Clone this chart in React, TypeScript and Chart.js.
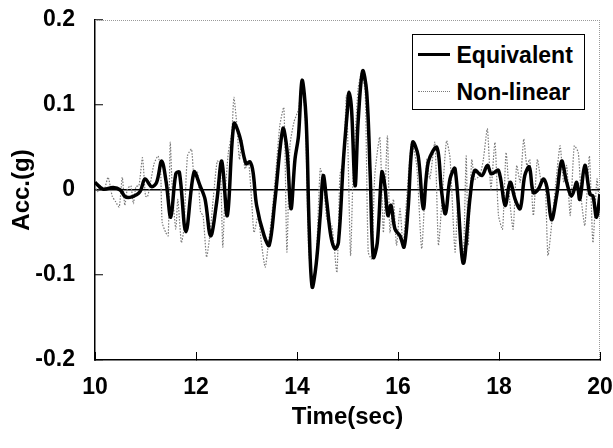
import React, { useEffect, useRef } from "react";
import { Chart, registerables } from "chart.js";

Chart.register(...registerables);

// ---- data ----
const EQ_T = [
  10.0, 10.16, 10.36, 10.5, 10.6, 10.73, 10.89, 10.99, 11.12, 11.22, 11.32, 11.41, 11.5, 11.6, 11.67, 11.8,
  11.96, 12.08, 12.18, 12.29, 12.41, 12.51, 12.62, 12.75, 12.86, 12.99, 13.07, 13.13, 13.2, 13.35, 13.45,
  13.56, 13.72, 13.8, 13.88, 13.96, 14.03, 14.1, 14.18, 14.24, 14.3, 14.38, 14.46, 14.52, 14.59, 14.67,
  14.75, 14.82, 14.92, 15.0, 15.03, 15.08, 15.15, 15.21, 15.3, 15.38, 15.45, 15.51, 15.59, 15.68, 15.74,
  15.8, 15.86, 15.94, 16.04, 16.12, 16.2, 16.29, 16.4, 16.5, 16.6, 16.77, 16.86, 16.94, 17.03, 17.13,
  17.29, 17.43, 17.52, 17.66, 17.77, 17.85, 17.99, 18.12, 18.22, 18.32, 18.42, 18.51, 18.6, 18.68, 18.78,
  18.88, 18.95, 19.04, 19.14, 19.24, 19.34, 19.44, 19.54, 19.6, 19.7, 19.8, 19.86, 19.93, 20.0,
];
const EQ_V = [
  0.009, 0.001, 0.003, 0.0, -0.008, -0.008, -0.002, 0.013, 0.004, 0.009, 0.034, 0.009, -0.032, 0.019, 0.021,
  -0.049, 0.021, 0.005, -0.011, -0.054, -0.014, 0.034, -0.03, 0.078, 0.064, 0.031, 0.033, 0.021, -0.018,
  -0.054, -0.065, -0.014, 0.072, 0.048, -0.022, 0.036, 0.064, 0.129, 0.084, -0.042, -0.114, -0.087, -0.03,
  0.017, -0.014, -0.054, -0.069, -0.062, 0.036, 0.095, 0.115, 0.095, 0.005, 0.08, 0.14, 0.115, 0.017, -0.079,
  -0.062, 0.021, 0.005, -0.03, -0.018, -0.046, -0.054, -0.067, -0.022, 0.056, 0.04, -0.022, 0.033, 0.05, 0.0,
  -0.028, 0.013, 0.025, -0.086, -0.007, 0.023, 0.017, 0.029, 0.019, 0.023, -0.018, 0.009, -0.011, -0.022,
  0.017, 0.027, -0.003, 0.001, 0.013, 0.003, -0.035, -0.007, 0.034, 0.009, -0.007, 0.009, -0.011, 0.029,
  -0.005, -0.007, -0.032, -0.005,
];

const NL_T = [
  10.0, 10.05, 10.11, 10.18, 10.26, 10.34, 10.41, 10.48, 10.54, 10.59, 10.64, 10.71, 10.76, 10.81, 10.87,
  10.94, 11.0, 11.04, 11.1, 11.17, 11.25, 11.3, 11.33, 11.4, 11.45, 11.49, 11.53, 11.6, 11.64, 11.71, 11.76,
  11.83, 11.91, 11.96, 12.03, 12.09, 12.14, 12.21, 12.28, 12.34, 12.42, 12.48, 12.53, 12.57, 12.64, 12.71,
  12.75, 12.81, 12.86, 12.91, 12.97, 13.04, 13.1, 13.15, 13.23, 13.3, 13.37, 13.43, 13.5, 13.58, 13.66,
  13.74, 13.8, 13.86, 13.94, 14.03, 14.1, 14.17, 14.23, 14.31, 14.38, 14.46, 14.52, 14.59, 14.69, 14.79,
  14.85, 14.92, 14.98, 15.06, 15.11, 15.21, 15.28, 15.35, 15.41, 15.48, 15.54, 15.64, 15.71, 15.79, 15.84,
  15.91, 15.97, 16.04, 16.1, 16.17, 16.27, 16.37, 16.47, 16.57, 16.63, 16.73, 16.8, 16.86, 16.96, 17.03,
  17.13, 17.19, 17.29, 17.35, 17.39, 17.46, 17.52, 17.62, 17.69, 17.77, 17.84, 17.92, 17.99, 18.07, 18.14,
  18.21, 18.28, 18.35, 18.42, 18.49, 18.55, 18.61, 18.68, 18.76, 18.84, 18.91, 18.97, 19.06, 19.14, 19.21,
  19.28, 19.34, 19.41, 19.49, 19.57, 19.63, 19.7, 19.79, 19.86, 19.94, 20.0,
];
const NL_V = [
  0.005, -0.002, 0.005, 0.0, 0.015, -0.007, -0.014, -0.02, 0.015, -0.018, 0.001, 0.005, -0.016, 0.004, 0.005,
  0.038, -0.007, -0.008, 0.009, 0.031, 0.04, 0.021, -0.038, -0.05, -0.054, 0.056, 0.001, -0.046, -0.011,
  -0.062, -0.046, 0.04, 0.048, 0.017, 0.021, -0.026, -0.03, -0.079, -0.05, -0.011, 0.034, 0.029, -0.067,
  -0.011, 0.044, 0.068, 0.109, 0.076, 0.036, 0.058, 0.025, 0.033, -0.011, -0.05, -0.03, -0.065, -0.091,
  -0.065, -0.03, 0.021, 0.076, 0.097, -0.073, 0.052, 0.08, 0.095, 0.131, 0.076, -0.07, -0.11, -0.081, 0.025,
  0.013, -0.034, -0.042, -0.097, 0.017, 0.036, 0.111, -0.077, 0.017, 0.119, 0.138, 0.115, -0.073, -0.081,
  0.017, 0.062, -0.05, 0.064, -0.05, -0.011, -0.065, -0.022, -0.065, -0.011, 0.056, 0.029, -0.069, 0.036,
  0.013, 0.056, -0.065, -0.022, 0.058, 0.038, -0.073, -0.011, -0.081, 0.04, -0.065, 0.036, 0.013, 0.017,
  0.036, 0.072, 0.001, 0.056, -0.03, -0.046, 0.044, -0.011, -0.046, 0.029, 0.009, 0.06, 0.029, 0.036, -0.03,
  0.036, 0.009, 0.013, -0.077, -0.03, 0.017, 0.052, 0.009, 0.029, -0.03, 0.052, 0.044, -0.011, -0.042, 0.04,
  -0.062, 0.013, -0.03,
];

const X_MIN = 10;
const X_MAX = 20;
const X_STEP = 2;
const Y_MIN = -0.2;
const Y_MAX = 0.2;
const Y_STEP = 0.1;
const SERIES_NAMES = ["Equivalent", "Non-linear"];
const X_TITLE = "Time(sec)";
const Y_TITLE = "Acc.(g)";

const FAMILY = '"Liberation Sans", Arial, Helvetica, sans-serif';

const framePlugin = {
  id: "frame",
  beforeDatasetsDraw(chart: any) {
    const { ctx, chartArea } = chart;
    const { left, right, top, bottom } = chartArea;
    ctx.save();
    ctx.strokeStyle = "#9a9a9a";
    ctx.lineWidth = 1;
    ctx.setLineDash([1, 1]);
    ctx.beginPath();
    ctx.moveTo(left, top + 0.5);
    ctx.lineTo(right, top + 0.5);
    ctx.moveTo(right - 0.5, top);
    ctx.lineTo(right - 0.5, bottom);
    ctx.stroke();
    ctx.restore();
  },
};

export default function App() {
  const ref = useRef<HTMLCanvasElement | null>(null);

  useEffect(() => {
    if (!ref.current) return;
    const eq = EQ_T.map((t, i) => ({ x: t, y: EQ_V[i] }));
    const nl = NL_T.map((t, i) => ({ x: t, y: NL_V[i] }));
    const tickFont = { family: FAMILY, size: 23, weight: "bold" as const, lineHeight: 1.2 };
    const titleFont = { family: FAMILY, size: 24, weight: "bold" as const, lineHeight: 1.2 };
    const chart = new Chart(ref.current, {
      type: "line",
      data: {
        datasets: [
          {
            label: SERIES_NAMES[0],
            data: eq,
            borderColor: "#000",
            borderWidth: 3.5,
            pointRadius: 0,
            tension: 0.35,
            fill: false,
          },
          {
            label: SERIES_NAMES[1],
            data: nl,
            borderColor: "#7a7a7a",
            borderWidth: 1.2,
            borderDash: [1.5, 1.5],
            pointRadius: 0,
            tension: 0.2,
            fill: false,
          },
        ],
      },
      options: {
        animation: false,
        responsive: false,
        events: [],
        layout: { padding: { left: 0, right: 13, top: 20, bottom: 0 } },
        plugins: { legend: { display: false }, tooltip: { enabled: false } },
        scales: {
          x: {
            type: "linear",
            min: X_MIN,
            max: X_MAX,
            ticks: {
              stepSize: X_STEP,
              color: "#000",
              font: tickFont,
              padding: 22,
              maxRotation: 0,
              autoSkip: false,
            },
            grid: {
              drawOnChartArea: false,
              drawTicks: true,
              tickLength: -8,
              tickColor: "#000",
              tickWidth: 1,
            },
            border: { color: "#000", width: 1.5 },
            title: {
              display: true,
              text: X_TITLE,
              color: "#000",
              font: titleFont,
              padding: { top: 0, bottom: 16 },
            },
            afterFit: (s: any) => {
              s.height = 88;
              s.paddingLeft = 0;
              s.paddingRight = 0;
              s.paddingTop = 0;
              s.paddingBottom = 0;
            },
          },
          y: {
            min: Y_MIN,
            max: Y_MAX,
            ticks: {
              stepSize: Y_STEP,
              color: "#000",
              font: tickFont,
              padding: 28,
              callback: (v: any) => String(Math.round(Number(v) * 10) / 10),
            },
            grid: {
              drawOnChartArea: true,
              drawTicks: true,
              tickLength: -8,
              tickColor: "#000",
              tickWidth: 1,
              lineWidth: 1.5,
              color: (c: any) =>
                c.tick && Math.abs(c.tick.value) < 1e-9 ? "#000" : "rgba(0,0,0,0)",
            },
            border: { color: "#000", width: 1.5 },
            title: {
              display: true,
              text: Y_TITLE,
              color: "#000",
              font: titleFont,
              padding: { top: 8, bottom: 0 },
            },
            afterFit: (s: any) => {
              s.width = 95;
              s.paddingLeft = 0;
              s.paddingRight = 0;
              s.paddingTop = 0;
              s.paddingBottom = 0;
            },
          },
        },
      },
      plugins: [framePlugin],
    });
    return () => chart.destroy();
  }, []);

  const textStyle: React.CSSProperties = {
    position: "absolute",
    left: 43.5,
    height: 28,
    lineHeight: "28px",
    fontFamily: FAMILY,
    fontWeight: "bold",
    fontSize: 23,
    color: "#000",
    whiteSpace: "nowrap",
  };

  return (
    <div style={{ position: "fixed", left: 0, top: 0, width: 613, height: 448, background: "#fff" }}>
      <canvas ref={ref} width={613} height={448} style={{ display: "block" }} />
      <div
        style={{
          position: "absolute",
          left: 412,
          top: 34,
          width: 173,
          height: 76,
          boxSizing: "border-box",
          border: "1.5px solid #000",
          background: "#fff",
        }}
      >
        <div style={{ position: "absolute", left: 4.5, top: 18, width: 32, height: 3, background: "#000" }} />
        <div style={{ ...textStyle, top: 5.5 }}>{SERIES_NAMES[0]}</div>
        <div
          style={{
            position: "absolute",
            left: 4.5,
            top: 56,
            width: 32,
            height: 0,
            borderTop: "1px dotted #7a7a7a",
          }}
        />
        <div style={{ ...textStyle, top: 42.5 }}>{SERIES_NAMES[1]}</div>
      </div>
    </div>
  );
}
